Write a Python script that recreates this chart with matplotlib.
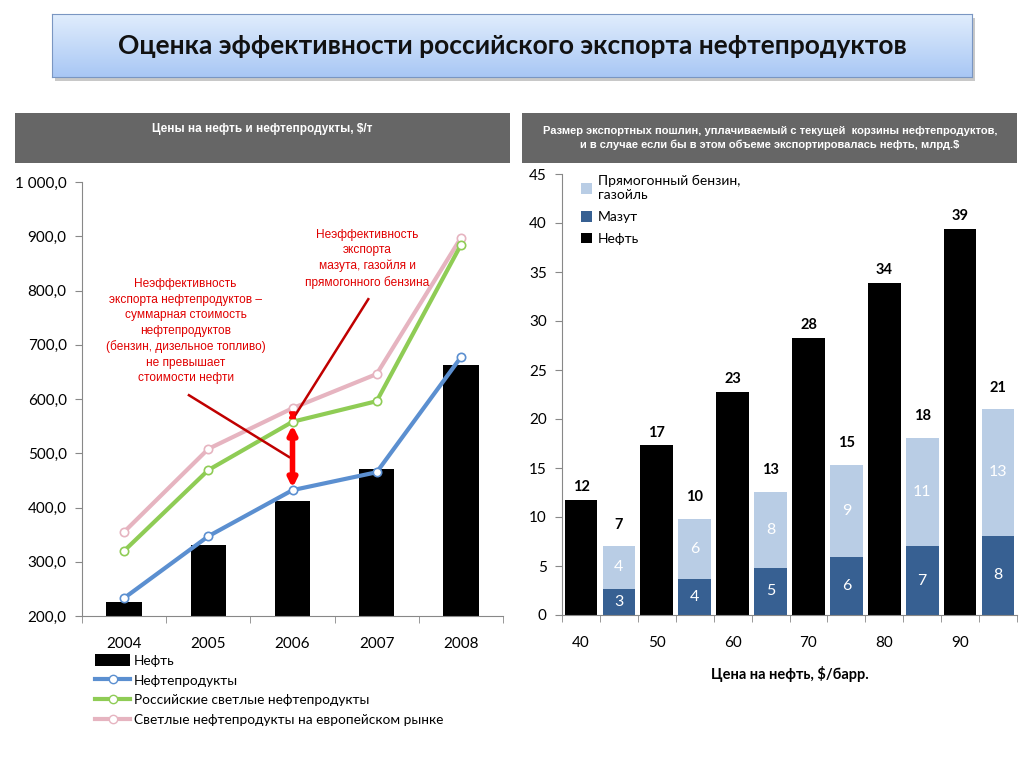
import numpy as np
import matplotlib
matplotlib.use("Agg")
import matplotlib.pyplot as plt
from matplotlib.patches import Rectangle, Patch
from matplotlib.lines import Line2D
from matplotlib.ticker import FuncFormatter, FixedLocator
from matplotlib import font_manager as fm

# --- data ---------------------------------------------------------------
years = ["2004", "2005", "2006", "2007", "2008"]
oil_price = [226, 331, 412, 471, 663]          # Нефть, $/т
products_price = [233, 347, 432, 465, 677]     # Нефтепродукты
ru_light_price = [320, 469, 558, 596, 884]     # Российские светлые
eu_light_price = [355, 508, 583, 646, 897]     # Светлые на европ. рынке

oil_levels = ["40", "50", "60", "70", "80", "90"]
duty_oil = [11.7, 17.3, 22.8, 28.3, 33.9, 39.4]
duty_mazut = [2.7, 3.7, 4.8, 5.9, 7.0, 8.1]
duty_light = [4.3, 6.1, 7.8, 9.4, 11.1, 12.9]

# --- fonts --------------------------------------------------------------
names = {f.name for f in fm.fontManager.ttflist}
NARROW = "Liberation Sans Narrow" if "Liberation Sans Narrow" in names else "Liberation Sans"
BASE = "Lato" if "Lato" in names else "DejaVu Sans"
plt.rcParams["font.family"] = [BASE, "DejaVu Sans"]

W, H = 1024, 768
fig = plt.figure(figsize=(W / 100, H / 100), dpi=100)


def fr(x0, y0, x1, y1):
    # pixel box (top-left origin) -> figure fraction rect
    return [x0 / W, 1 - y1 / H, (x1 - x0) / W, (y1 - y0) / H]


# --- title box with gradient -------------------------------------------
fig.patches.append(Rectangle((55 / W, 1 - 81 / H), 920 / W, 63 / H, transform=fig.transFigure,
                             facecolor="#c8c8c8", edgecolor="none", zorder=-1))
tax = fig.add_axes(fr(52, 14, 972, 77))
grad = np.linspace(0, 1, 100).reshape(-1, 1)
top, bot = np.array([0.88, 0.93, 0.99]), np.array([0.66, 0.78, 0.96])
img = top[None, None, :] * (1 - grad[..., None]) + bot[None, None, :] * grad[..., None]
tax.imshow(img, aspect="auto", extent=[0, 1, 0, 1])
tax.set_xticks([]); tax.set_yticks([])
for s in tax.spines.values():
    s.set_color("#7a96c2")
tax.text(0.5, 0.5, "Оценка эффективности российского экспорта нефтепродуктов",
         ha="center", va="center", fontsize=19, fontweight="bold", color="#111111")

# --- grey headers -------------------------------------------------------
for (x0, x1) in [(15, 510), (522, 1017)]:
    fig.patches.append(Rectangle((x0 / W, 1 - 163 / H), (x1 - x0) / W, 50 / H,
                                 transform=fig.transFigure, facecolor="#666666",
                                 edgecolor="none", zorder=1))
fig.text(262 / W, 1 - 129 / H, "Цены на нефть и нефтепродукты, $/т", ha="center", va="center",
         color="white", fontsize=8.5, fontweight="bold", family=[NARROW, "DejaVu Sans"])
fig.text(770 / W, 1 - 138 / H,
         "Размер экспортных пошлин, уплачиваемый с текущей  корзины нефтепродуктов,\n"
         "и в случае если бы в этом объеме экспортировалась нефть, млрд.$",
         ha="center", va="center", color="white", fontsize=8, fontweight="bold",
         linespacing=1.45, family=[NARROW, "DejaVu Sans"])

# --- left chart ---------------------------------------------------------
ax = fig.add_axes(fr(82, 182, 503, 616))
x = np.arange(len(years))
ax.bar(x, np.array(oil_price) - 200, bottom=200, width=0.42, color="black", zorder=2)
line_kw = dict(lw=3, marker="o", ms=6, mfc="white", mew=1.2, zorder=3)
ax.plot(x, eu_light_price, color="#e6b4c0", mec="#e6b4c0", **line_kw)
ax.plot(x, ru_light_price, color="#8fcc55", mec="#8fcc55", **line_kw)
ax.plot(x, products_price, color="#5b8fd0", mec="#5b8fd0", **line_kw)
ax.set_xlim(-0.5, 4.5)
ax.set_ylim(200, 1000)
ax.set_yticks(np.arange(200, 1001, 100))
ax.yaxis.set_major_formatter(FuncFormatter(lambda v, p: f"{v:,.1f}".replace(",", " ").replace(".", ",")))
ax.set_xticks(x)
ax.set_xticklabels(years)
ax.xaxis.set_minor_locator(FixedLocator(np.arange(-0.5, 5, 1)))
ax.tick_params(axis="x", which="major", length=0, pad=15, labelsize=11)
ax.tick_params(axis="x", which="minor", length=5, color="#888888")
ax.tick_params(axis="y", length=5, color="#888888", labelsize=11, pad=6)
for s in ["top", "right"]:
    ax.spines[s].set_visible(False)
for s in ["left", "bottom"]:
    ax.spines[s].set_color("#888888")

red_txt = dict(color="#e00000", fontsize=8.6, ha="center", va="center",
               family=[NARROW, "DejaVu Sans"], linespacing=1.38)
ax.text(0.73, 725, "Неэффективность\nэкспорта нефтепродуктов –\nсуммарная стоимость\n"
        "нефтепродуктов\n(бензин, дизельное топливо)\nне превышает\nстоимости нефти", **red_txt)
ax.text(2.89, 858, "Неэффективность\nэкспорта\nмазута, газойля и\nпрямогонного бензина", **red_txt)
ax.plot([0.77, 1.96], [607, 493], color="#c00000", lw=1.8, zorder=4)
ax.plot([2.9, 2.02], [784, 567], color="#c00000", lw=1.8, zorder=4)
ax.annotate("", xy=(2, products_price[2] + 4), xytext=(2, ru_light_price[2] - 6),
            arrowprops=dict(arrowstyle="<|-|>", color="#ff0000", lw=4, mutation_scale=12,
                            shrinkA=0, shrinkB=0), zorder=5)
ax.annotate("", xy=(2, ru_light_price[2] + 3), xytext=(2, eu_light_price[2] - 4),
            arrowprops=dict(arrowstyle="<|-|>", color="#ff0000", lw=2, mutation_scale=8,
                            shrinkA=0, shrinkB=0), zorder=5)

handles = [Patch(facecolor="black"),
           Line2D([], [], color="#5b8fd0", lw=3, marker="o", ms=6, mfc="white", mec="#5b8fd0"),
           Line2D([], [], color="#8fcc55", lw=3, marker="o", ms=6, mfc="white", mec="#8fcc55"),
           Line2D([], [], color="#e6b4c0", lw=3, marker="o", ms=6, mfc="white", mec="#e6b4c0")]
labels = ["Нефть", "Нефтепродукты", "Российские светлые нефтепродукты",
          "Светлые нефтепродукты на европейском рынке"]
fig.legend(handles, labels, loc="upper left", bbox_to_anchor=(95 / W, 1 - 654 / H),
           frameon=False, fontsize=9.8, handlelength=2.6, handleheight=1.0,
           handletextpad=0.25, labelspacing=0.52, borderaxespad=0, borderpad=0)

# --- right chart --------------------------------------------------------
bx = fig.add_axes(fr(562, 174, 1017, 615))
n = len(oil_levels)
pos_oil = np.arange(n) * 2
pos_mix = pos_oil + 1
bw = 0.86
bx.bar(pos_oil, duty_oil, width=bw, color="black", zorder=2)
bx.bar(pos_mix, duty_mazut, width=bw, color="#376092", zorder=2)
bx.bar(pos_mix, duty_light, bottom=duty_mazut, width=bw, color="#b9cde5", zorder=2)
totals = np.array(duty_mazut) + np.array(duty_light)
for p, v in zip(pos_oil, duty_oil):
    bx.text(p, v + 0.6, f"{v:.0f}", ha="center", va="bottom", fontsize=10.5, fontweight="bold")
for p, m, l, t in zip(pos_mix, duty_mazut, duty_light, totals):
    bx.text(p, t + 1.5, f"{t:.0f}", ha="center", va="bottom", fontsize=10.5, fontweight="bold")
    bx.text(p, m / 2, f"{m:.0f}", ha="center", va="center", fontsize=11.5, color="white")
    bx.text(p, m + l / 2, f"{l:.0f}", ha="center", va="center", fontsize=11.5, color="white")
bx.set_xlim(-0.5, 2 * n - 0.5)
bx.set_ylim(0, 45)
bx.set_yticks(np.arange(0, 46, 5))
bx.set_xticks(pos_oil)
bx.set_xticklabels(oil_levels)
bx.xaxis.set_minor_locator(FixedLocator(np.arange(-0.5, 2 * n, 1)))
bx.tick_params(axis="x", which="major", length=0, pad=15, labelsize=11)
bx.tick_params(axis="x", which="minor", length=5, color="#888888")
bx.tick_params(axis="y", length=5, color="#888888", labelsize=11, pad=6)
for s in ["top", "right"]:
    bx.spines[s].set_visible(False)
for s in ["left", "bottom"]:
    bx.spines[s].set_color("#888888")
bx.set_xlabel("Цена на нефть, $/барр.", fontsize=10.5, fontweight="bold", labelpad=12)

rh = [Patch(facecolor="#b9cde5"), Patch(facecolor="#376092"), Patch(facecolor="black")]
rl = ["Прямогонный бензин,\nгазойль", "Мазут", "Нефть"]
bx.legend(rh, rl, loc="upper left", bbox_to_anchor=(0.03, 1.01), frameon=False, fontsize=10,
          handlelength=0.8, handleheight=0.8, handletextpad=0.4, labelspacing=0.7,
          borderaxespad=0)

fig.savefig("out.png", dpi=100)
